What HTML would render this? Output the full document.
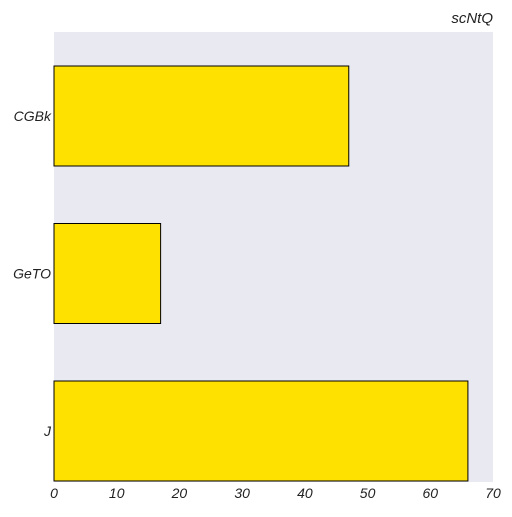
<!DOCTYPE html>
<html><head><meta charset="utf-8">
<style>
html,body{margin:0;padding:0;background:#fff;}
svg text{font-family:"Liberation Sans",sans-serif;font-style:italic;fill:#222;}
</style></head>
<body>
<svg id="chart" width="512" height="512" xmlns="http://www.w3.org/2000/svg">
<rect x="54" y="32" width="439" height="450" fill="#e9e9f2"/>
<text x="493" y="23" text-anchor="end" font-size="15">scNtQ</text>
</svg>
<script>
const categories = ["J","GeTO","CGBk"];
const values = [66, 17, 47];
const xTicks = [0,10,20,30,40,50,60,70];

const svg = document.getElementById('chart');
const NS = 'http://www.w3.org/2000/svg';
const x0 = 54, x1 = 493, xMax = 70;
const xs = v => x0 + (v / xMax) * (x1 - x0);
const ys = i => 431 - i * 157.5;
const barH = 100;

categories.forEach((c, i) => {
  const r = document.createElementNS(NS, 'rect');
  r.setAttribute('x', xs(0));
  r.setAttribute('y', ys(i) - barH / 2);
  r.setAttribute('width', xs(values[i]) - xs(0));
  r.setAttribute('height', barH);
  r.setAttribute('fill', '#ffe100');
  r.setAttribute('stroke', '#000');
  r.setAttribute('stroke-width', '1');
  
  
  svg.appendChild(r);

  const t = document.createElementNS(NS, 'text');
  t.setAttribute('x', 51);
  t.setAttribute('y', ys(i) + 5);
  t.setAttribute('text-anchor', 'end');
  t.setAttribute('font-size', '14');
  t.textContent = c;
  
  
  svg.appendChild(t);
});

xTicks.forEach(v => {
  const t = document.createElementNS(NS, 'text');
  t.setAttribute('x', xs(v));
  t.setAttribute('y', 498);
  t.setAttribute('text-anchor', 'middle');
  t.setAttribute('font-size', '14');
  t.textContent = v;
  
  
  svg.appendChild(t);
});
</script>
</body></html>
